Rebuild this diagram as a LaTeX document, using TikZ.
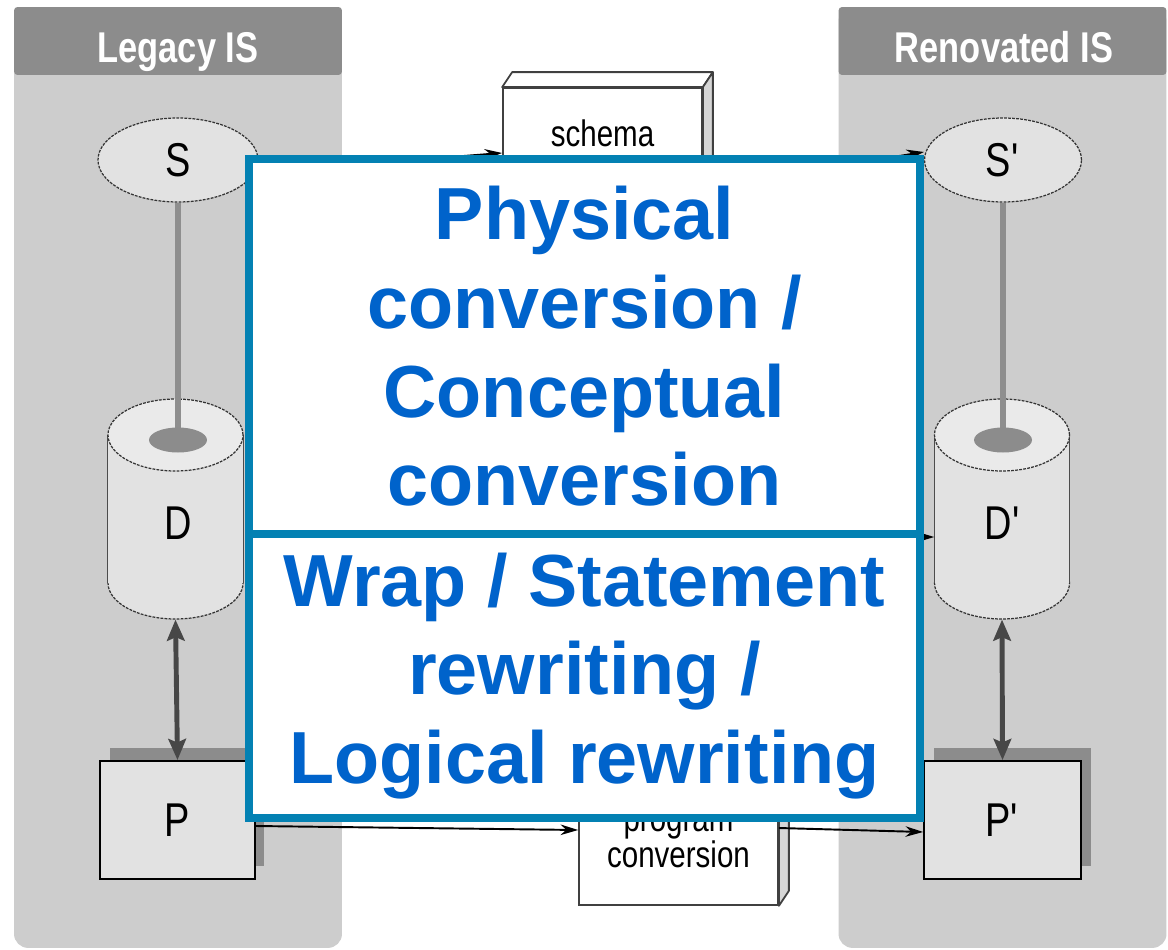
\documentclass[tikz,border=0pt]{standalone}
\usepackage{fontspec}
\setmainfont{Liberation Sans}
\newfontfamily\narrowfont[FakeStretch=0.8]{Liberation Sans}
\usepackage{xcolor}
\definecolor{panelGray}{HTML}{CDCDCD}
\definecolor{headGray}{HTML}{8C8C8C}
\definecolor{shapeGray}{HTML}{E2E2E2}
\definecolor{topGray}{HTML}{EAEAEA}
\definecolor{stemGray}{HTML}{8E8E8E}
\definecolor{arrowGray}{HTML}{474747}
\definecolor{sideGray}{HTML}{D6D6D6}
\definecolor{frameBlue}{HTML}{0381B3}
\definecolor{textBlue}{HTML}{0063CB}
\usepackage{tikz}
\usetikzlibrary{shapes.geometric,arrows.meta,positioning,shadows}

\begin{document}
\begin{tikzpicture}[x=0.02cm,y=-0.02cm,>=Stealth,
  panel/.style={fill=panelGray,rounded corners=8pt,minimum width=6.56cm,minimum height=18.82cm,inner sep=0},
  header/.style={fill=headGray,rounded corners=2pt,minimum width=6.56cm,minimum height=1.36cm,inner sep=0},
  title/.style={inner sep=0,text depth=0pt,text=white,font=\narrowfont\fontsize{24.5}{24.5}\selectfont\bfseries},
  ellnode/.style={ellipse,fill=shapeGray,draw=black!80,line width=0.7pt,dash pattern=on 1.6pt off 0.7pt,
                  inner sep=0,minimum height=1.68cm,font=\narrowfont\fontsize{27}{27}\selectfont},
  cylend/.style={ellipse,fill=shapeGray,draw=black!80,line width=0.7pt,dash pattern=on 1.6pt off 0.7pt,
                 inner sep=0,minimum width=2.7cm,minimum height=1.44cm},
  cylbody/.style={rectangle,fill=shapeGray,inner sep=0,minimum width=2.7cm,minimum height=2.96cm},
  cylside/.style={draw=black!70,line width=0.7pt},
  hole/.style={ellipse,fill=headGray,inner sep=0,minimum width=1.16cm,minimum height=0.5cm},
  lbl/.style={inner sep=0,font=\narrowfont\fontsize{27}{27}\selectfont},
  progbox/.style={rectangle,fill=shapeGray,draw=black,line width=1.1pt,minimum height=2.36cm,inner sep=0,
                  font=\narrowfont\fontsize{27}{27}\selectfont,
                  drop shadow={shadow xshift=0.19cm,shadow yshift=0.26cm,fill=headGray,opacity=1}},
  convbox/.style={rectangle,fill=white,draw=black!75,line width=1pt,minimum width=3.98cm,
                  inner sep=0,align=center,font=\narrowfont\fontsize{21}{18}\selectfont},
  facetop/.style={fill=white,draw=black!75,line width=1pt,line join=round},
  faceside/.style={fill=sideGray,draw=black!75,line width=1pt,line join=round},
  stem/.style={draw=stemGray,line width=3.4pt},
  dbl/.style={draw=arrowGray,line width=2.8pt,{Stealth[length=12pt,width=10pt,inset=2pt]}-{Stealth[length=12pt,width=10pt,inset=2pt]}},
  conv/.style={draw=black,line width=1.1pt,-{Stealth[length=10pt,width=6pt]}},
  bluebox/.style={rectangle,draw=frameBlue,line width=4.5pt,fill=white,minimum width=13.42cm,inner sep=0,
                  align=center,text=textBlue,font=\fontsize{42}{50.5}\selectfont\bfseries}]

  \useasboundingbox (0,0) rectangle (1168,949);

  % the two information systems
  \node[panel] (legacy) at (178,477.5) {};
  \node[header] (legacyhead) at (178,41) {};
  \node[title] (legacytitle) at (178,47) {Legacy IS};
  \node[panel] (renov) at (1002.5,477.5) {};
  \node[header] (renovhead) at (1002.5,41) {};
  \node[title] (renovtitle) at (1004,47) {Renovated IS};

  % legacy side
  \node[ellnode,minimum width=3.2cm] (S) at (178,160) {S};
  \node[cylend] (Dbot) at (175.5,583) {};
  \node[cylbody] (Dcyl) at (175.5,509) {};
  \draw[cylside] (Dcyl.north west) -- (Dcyl.south west) (Dcyl.north east) -- (Dcyl.south east);
  \node[cylend,fill=topGray] (Dtop) at (175.5,435) {};
  \draw[stem] (S.south) -- (178,440);
  \node[hole] (Dhole) at (178,440) {};
  \node[lbl] (D) at (178,523) {D};
  \node[progbox,minimum width=3.1cm] (P) at (177.5,820) {P};
  \draw[dbl] (Dbot.south) -- (P.north);

  % renovated side
  \node[ellnode,minimum width=3.14cm] (Sr) at (1003,160) {S\textquotesingle};
  \node[cylend] (Drbot) at (1002,583) {};
  \node[cylbody] (Drcyl) at (1002,509) {};
  \draw[cylside] (Drcyl.north west) -- (Drcyl.south west) (Drcyl.north east) -- (Drcyl.south east);
  \node[cylend,fill=topGray] (Drtop) at (1002,435) {};
  \draw[stem] (Sr.south) -- (1003,440);
  \node[hole] (Drhole) at (1003,440) {};
  \node[lbl] (Dr) at (1003,523) {D\textquotesingle};
  \node[progbox,minimum width=3.14cm] (Pr) at (1002.5,820) {P\textquotesingle};
  \draw[dbl] (Drbot.south) -- (Pr.north);

  % conversion boxes
  \node[convbox,minimum height=1.8cm] (schema) at (602.5,133) {schema};
  \filldraw[facetop] (schema.north west) -- ([shift={(10,-15)}]schema.north west)
    -- ([shift={(10,-15)}]schema.north east) -- (schema.north east) -- cycle;
  \filldraw[faceside] (schema.north east) -- ([shift={(10,-15)}]schema.north east)
    -- ([shift={(10,-15)}]schema.south east) -- (schema.south east) -- cycle;
  \node[convbox,minimum height=2.6cm] (prog) at (678.5,840) {program\\conversion};
  \filldraw[facetop] (prog.north west) -- ([shift={(10,-15)}]prog.north west)
    -- ([shift={(10,-15)}]prog.north east) -- (prog.north east) -- cycle;
  \filldraw[faceside] (prog.north east) -- ([shift={(10,-15)}]prog.north east)
    -- ([shift={(10,-15)}]prog.south east) -- (prog.south east) -- cycle;

  \draw[conv] ([shift={(0,12)}]S.east) -- ([shift={(0,20)}]schema.west);
  \draw[conv] ([shift={(0,55)}]schema.east) -- ([shift={(0,-8)}]Sr.west);
  \draw[conv] ([shift={(6,28)}]Dcyl.east) -- ([shift={(0,28)}]Drcyl.west);
  \draw[conv] ([shift={(0,6)}]P.east) -- ([shift={(0,-10)}]prog.west);
  \draw[conv] ([shift={(0,-12)}]prog.east) -- ([shift={(0,12)}]Pr.west);

  % overlay
  \node[bluebox,minimum height=7.5cm] (phys) at (584.5,346.5) {Physical\\conversion /\\Conceptual\\conversion};
  \node[bluebox,minimum height=5.68cm] (wrap) at (584.5,676) {Wrap / Statement\\rewriting /\\Logical rewriting};
\end{tikzpicture}
\end{document}
